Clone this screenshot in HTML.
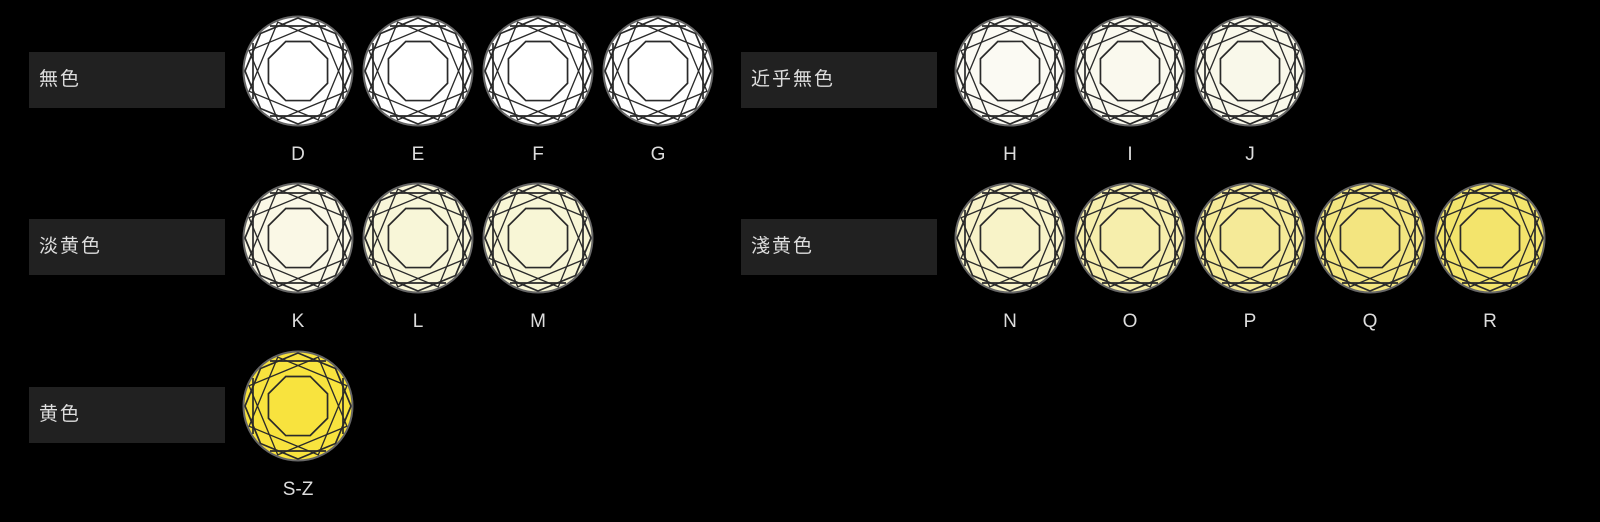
<!DOCTYPE html>
<html><head><meta charset="utf-8"><style>
body{margin:0;width:1600px;height:522px;background:#000;overflow:hidden;position:relative;font-family:"Liberation Sans","Noto Sans CJK JP",sans-serif}
.b{position:absolute;width:196px;height:56px;background:#212121;color:#ddd;font-size:19px;line-height:56px;padding-left:10px;box-sizing:border-box;letter-spacing:2px}
.l{position:absolute;width:60px;text-align:center;color:#ddd;font-size:19px}
svg{position:absolute;left:0;top:0}
</style></head><body>
<div class="b" style="left:29px;top:52px">無色</div>
<div class="b" style="left:741px;top:52px">近乎無色</div>
<div class="b" style="left:29px;top:219px">淡黄色</div>
<div class="b" style="left:741px;top:219px">淺黄色</div>
<div class="b" style="left:29px;top:387px">黄色</div>
<svg width="1600" height="522">
<defs><g id="d">
<g fill="none" stroke="#2a2a2a" stroke-width="1.7">
<polygon points="0,-53 37.5,-37.5 53,0 37.5,37.5 0,53 -37.5,37.5 -53,0 -37.5,-37.5"/>
<polygon points="-48,-48 48,-48 48,48 -48,48" transform="rotate(22.5) scale(0.78)"/>
<polygon points="-48,-48 48,-48 48,48 -48,48" transform="rotate(67.5) scale(0.78)"/>
<polygon points="0,-32 22.6,-22.6 32,0 22.6,22.6 0,32 -22.6,22.6 -32,0 -22.6,-22.6" transform="rotate(22.5)"/>
<path d="M-45,-28 L-45,28 M45,-28 L45,28 M-28,-45 L28,-45 M-28,45 L28,45"/>
</g>
<circle r="54.5" fill="none" stroke="#666" stroke-width="2"/>
</g></defs>
<g id="all"></g>
</svg>
<script>
var items=[[298,71,'#ffffff','D'],[418,71,'#ffffff','E'],[538,71,'#ffffff','F'],[658,71,'#ffffff','G'],
[1010,71,'#fbfaf3','H'],[1130,71,'#faf9ee','I'],[1250,71,'#f9f8ea','J'],
[298,238,'#faf8e6','K'],[418,238,'#f8f6d8','L'],[538,238,'#f8f6d6','M'],
[1010,238,'#f8f3c8','N'],[1130,238,'#f6eeac','O'],[1250,238,'#f5ea98','P'],[1370,238,'#f3e580','Q'],[1490,238,'#f3e46c','R'],
[298,406,'#f8e33e','S-Z']];
var g=document.getElementById('all'),h='';
items.forEach(function(t){
h+='<circle cx="'+t[0]+'" cy="'+t[1]+'" r="54" fill="'+t[2]+'"/><use href="#d" transform="translate('+t[0]+','+t[1]+')"/>';
var dv=document.createElement('div');dv.className='l';dv.style.left=(t[0]-30)+'px';dv.style.top=(t[1]+73)+'px';dv.textContent=t[3];document.body.appendChild(dv);
});
g.innerHTML=h;
</script>
</body></html>
